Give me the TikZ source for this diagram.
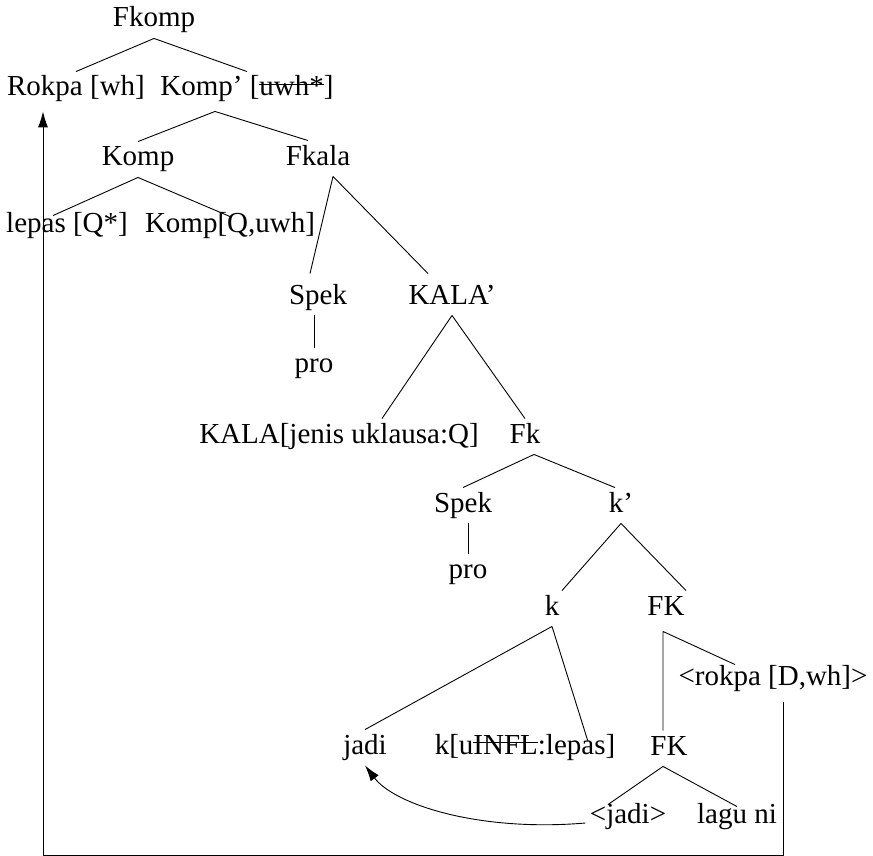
\documentclass[tikz,border=0pt]{standalone}
\usepackage{fontspec}
\setmainfont{Liberation Serif}
\usetikzlibrary{arrows.meta}
% struck-out feature
\newcommand{\struck}[1]{\setbox0\hbox{#1}\rlap{\rule[0.37em]{\wd0}{0.04em}}\box0}

\begin{document}
\begin{tikzpicture}[x=1pt,y=-1pt,line width=0.9pt,
  lbl/.style={anchor=base,inner sep=4pt,text height=20pt,text depth=7pt,
    font=\fontsize{29}{34}\selectfont},
  move/.style={-{Latex[length=16pt,width=10pt]}}]
\useasboundingbox (0,0) rectangle (873,856);
% nodes sit on their baselines
\node[lbl] (fkomp) at (154,27) {Fkomp};
\node[lbl] (rokpa) at (76,96) {Rokpa [wh]};
\node[lbl] (kompbar) at (247,96) {Komp' [\struck{uwh*}]};
\node[lbl] (komp) at (138,166) {Komp};
\node[lbl] (fkala) at (318,165) {Fkala};
\node[lbl] (lepas) at (67,232) {lepas [Q*]};
\node[lbl] (kompq) at (230,232) {Komp[Q,uwh]};
\node[lbl] (spek1) at (318,304) {Spek};
\node[lbl] (kalabar) at (452,304) {KALA'};
\node[lbl] (pro1) at (314,372) {pro};
\node[lbl] (kala) at (339,443) {KALA[jenis uklausa:Q]};
\node[lbl] (fk) at (525,443) {Fk};
\node[lbl] (spek2) at (463,512) {Spek};
\node[lbl] (kbar) at (621,512) {k'};
\node[lbl] (pro2) at (468,578) {pro};
\node[lbl] (k) at (552,615) {k};
\node[lbl] (fk1) at (666,615) {FK};
\node[lbl] (rokpalow) at (773,685) {<rokpa [D,wh]>};
\node[lbl] (jadi) at (365,754) {jadi};
\node[lbl] (kinfl) at (525,754) {k[u\struck{INFL}:lepas]};
\node[lbl] (fk2) at (669,755) {FK};
\node[lbl] (jaditr) at (628,823) {<jadi>};
\node[lbl] (lagu) at (737,823) {lagu ni};

% branches
\draw (fkomp.south) -- (rokpa.north) (fkomp.south) -- (kompbar.north);
\draw ([xshift=-32pt,yshift=-4pt]kompbar.south) -- (komp.north)
      ([xshift=-32pt,yshift=-4pt]kompbar.south) -- ([xshift=-10pt]fkala.north);
\draw (komp.south) -- ([xshift=-14pt,yshift=-8pt]lepas.north)
      (komp.south) -- ([yshift=-9pt]kompq.north);
\draw ([xshift=15pt]fkala.south) -- ([xshift=-8pt,yshift=6pt]spek1.north)
      ([xshift=15pt]fkala.south) -- ([xshift=-24pt,yshift=6pt]kalabar.north);
\draw (pro1.north |- spek1.south) -- (pro1.north);
\draw (kalabar.south) -- ([xshift=43pt]kala.north)
      (kalabar.south) -- (fk.north);
\draw ([xshift=9pt]fk.south) -- (spek2.north)
      ([xshift=9pt]fk.south) -- ([xshift=-6pt]kbar.north);
\draw (pro2.north |- spek2.south) -- (pro2.north);
\draw (kbar.south) -- ([xshift=10pt]k.north)
      (kbar.south) -- ([xshift=20pt]fk1.north);
\draw (k.south) -- (jadi.north)
      (k.south) -- ([xshift=63pt,yshift=-12pt]kinfl.north);
\draw ([xshift=-3pt,yshift=-5pt]fk1.south) -- ([xshift=-6pt]fk2.north)
      ([xshift=-3pt,yshift=-5pt]fk1.south) -- ([xshift=-38pt,yshift=-4pt]rokpalow.north);
\draw ([xshift=-6pt]fk2.south) -- ([xshift=-20pt,yshift=-6pt]jaditr.north)
      ([xshift=-6pt]fk2.south) -- ([yshift=-8pt]lagu.north);

% movement
\draw[move] (jaditr.base west) .. controls (480,832) and (395,805) .. (jadi.south);
\draw[move] ([xshift=10pt,yshift=-6pt]rokpalow.south) -- ++(0,153)
      -| ([xshift=-33pt,yshift=-4pt]rokpa.south);
\end{tikzpicture}
\end{document}
